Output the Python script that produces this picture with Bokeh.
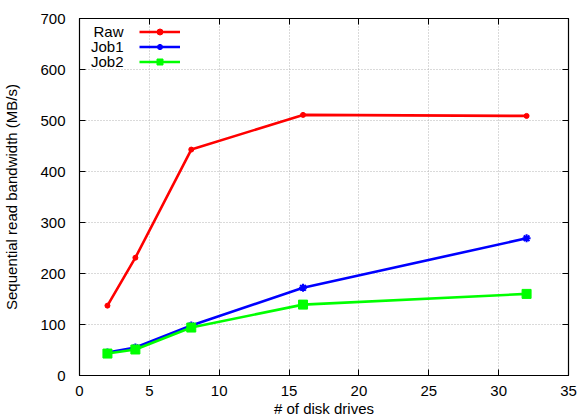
from bokeh.plotting import figure
from bokeh.models import (Range1d, SingleIntervalTicker, LinearAxis, Legend, LegendItem, Label,
                          CustomJSTickFormatter)
from bokeh.embed import file_html
from bokeh.resources import INLINE

drives = [2, 4, 8, 16, 32]
raw = [137, 231, 443, 511, 509]
job1 = [45, 55, 98, 172, 269]
job2 = [43, 51, 94, 139, 160]

series_names = ["Raw", "Job1", "Job2"]
FONT = "Liberation Sans"
FS = "15px"

p = figure(width=580, height=419, output_backend="svg", toolbar_location=None,
           x_range=Range1d(0, 35), y_range=Range1d(0, 700),
           min_border_left=79, min_border_right=12, min_border_top=18, min_border_bottom=44)
p.outline_line_color = "black"
p.outline_line_width = 1.2

for ax in (p.xaxis[0], p.yaxis[0]):
    ax.major_tick_in = 6
    ax.major_tick_out = 0
    ax.minor_tick_line_color = None
    ax.major_label_text_font = FONT
    ax.major_label_text_font_size = FS
    ax.major_label_text_color = "black"
    ax.axis_label_text_font = FONT
    ax.axis_label_text_font_size = FS
    ax.axis_label_text_font_style = "normal"
    ax.axis_label_text_color = "black"
    ax.axis_line_color = "black"
    ax.major_tick_line_color = "black"

p.xaxis[0].ticker = SingleIntervalTicker(interval=5)
p.yaxis[0].ticker = SingleIntervalTicker(interval=100)
p.xaxis[0].axis_label = "# of disk drives"
p.yaxis[0].axis_label = "Sequential read bandwidth (MB/s)"
p.xaxis[0].major_label_standoff = 6
p.xaxis[0].axis_label_standoff = 1
p.yaxis[0].major_label_standoff = 10
p.yaxis[0].axis_label_standoff = 17

# mirrored ticks on top and right
blank = CustomJSTickFormatter(code="return ''")
top = LinearAxis(ticker=SingleIntervalTicker(interval=5), major_tick_in=6, major_tick_out=0,
                 minor_tick_line_color=None, formatter=blank, major_tick_line_color="black",
                 major_label_standoff=0, axis_line_color=None)
right = LinearAxis(ticker=SingleIntervalTicker(interval=100), major_tick_in=6, major_tick_out=0,
                   minor_tick_line_color=None, formatter=blank, major_tick_line_color="black",
                   major_label_standoff=0, axis_line_color=None)
p.add_layout(top, "above")
p.add_layout(right, "right")

p.grid.grid_line_color = "#b4b4b4"
p.grid.grid_line_dash = "1 2"
p.grid.grid_line_width = 1
p.xgrid.ticker = SingleIntervalTicker(interval=5)
p.ygrid.ticker = SingleIntervalTicker(interval=100)

lw = 2.6
r_line = p.line(drives, raw, color="#ff0000", line_width=lw)
r_mark = p.scatter(drives, raw, marker="circle", size=5, color="#ff0000")
j1_line = p.line(drives, job1, color="#0000ff", line_width=lw)
j1_mark = p.scatter(drives, job1, marker="asterisk", size=8, line_color="#0000ff", line_width=2)
j2_line = p.line(drives, job2, color="#00ff00", line_width=lw)
j2_mark = p.scatter(drives, job2, marker="square", size=9, color="#00ff00")

legend = Legend(items=[
    LegendItem(label=" ", renderers=[r_line, r_mark]),
    LegendItem(label=" ", renderers=[j1_line, j1_mark]),
    LegendItem(label=" ", renderers=[j2_line, j2_mark]),
], location=(60, 306), glyph_width=41, glyph_height=15, label_height=15,
   label_width=1, label_standoff=0, spacing=0, padding=5, label_text_font_size="9px",
   background_fill_alpha=0, border_line_color=None)
p.add_layout(legend, "center")

for i, name in enumerate(series_names):
    p.add_layout(Label(x=44, y=344 - 15 * i, x_units="screen", y_units="screen",
                       text=name, text_align="right", text_baseline="middle",
                       text_font=FONT, text_font_size=FS, text_color="black"))

open("out.html", "w").write(file_html(p, INLINE))
